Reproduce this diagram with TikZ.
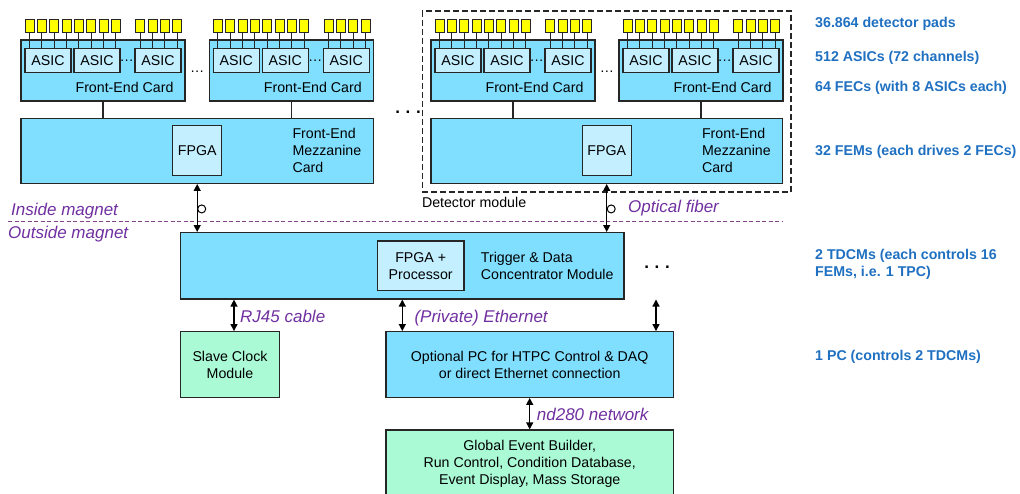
\documentclass[tikz,border=0pt]{standalone}
\usepackage{fontspec}
\setmainfont{Liberation Sans}
\usepackage{xcolor}
\usepackage{tikz}
\usetikzlibrary{arrows.meta,positioning,fit,calc}
\definecolor{modfill}{HTML}{80DFFF}
\definecolor{chipfill}{HTML}{C4EFFF}
\definecolor{extfill}{HTML}{AAFAD6}
\definecolor{padfill}{HTML}{FFFF00}
\definecolor{notecol}{HTML}{1F70C1}
\definecolor{cablecol}{HTML}{7030A0}
\definecolor{magnetcol}{HTML}{85448A}
\newcommand{\diagfont}{\fontsize{14.2}{17}\selectfont}
\newcommand{\cablefont}{\fontsize{17}{20}\selectfont\itshape}
\tikzset{
  board/.style={
    draw=black!85, line width=1.3pt, fill=modfill, inner sep=0pt, align=center
  },
  chip/.style={
    draw=black!85, line width=1.3pt, fill=chipfill, inner sep=0pt, align=center
  },
  extbox/.style={
    draw=black!85, line width=1.3pt, fill=extfill, inner sep=0pt, align=center
  },
  pad/.style={
    draw=black!85, line width=1pt, fill=padfill, inner sep=0pt,
    minimum width=9pt, minimum height=13pt
  },
  wire/.style={draw=black!85, line width=1.3pt},
  link/.style={{Triangle[length=7pt,width=7pt]}-{Triangle[length=7pt,width=7pt]},
    line width=1.3pt, black},
  fibre/.style={circle, draw=black, line width=1pt, fill=white,
    minimum size=8pt, inner sep=0pt},
  module/.style={draw=black!85, line width=1.2pt, dash pattern=on 6pt off 3pt},
  magnet/.style={draw=magnetcol, line width=1.5pt, dash pattern=on 4pt off 2.5pt},
  cablelabel/.style={font=\cablefont, text=cablecol, inner sep=0pt, anchor=base west},
  note/.style={font=\diagfont\bfseries, text=notecol, inner sep=0pt,
    anchor=west, align=left},
  bigdots/.style={font=\fontsize{17}{20}\selectfont\bfseries, inner sep=0pt},
}

\begin{document}
\begin{tikzpicture}[x=1pt, y=-1pt, font=\diagfont]
    \useasboundingbox (0,0) rectangle (1020,493);
    % front-end cards with their ASICs and pads
    \foreach \c/\x in {1/21, 2/209.3, 3/431, 4/619} {
      \node[board, minimum width=164pt, minimum height=61pt] (fec\c) at (\x+82,70.5) {};
      \foreach \a/\dx in {1/4, 2/53, 3/114}
        \node[chip, minimum width=46pt, minimum height=24.4pt] (asic\c-\a) at (\x+\dx+23,60.5) {ASIC};
      \node[inner sep=0pt] (adots\c) at (\x+105.8,61) {\dots};
      \node[above left=9pt and 12pt of fec\c.south east, inner sep=0pt] (fectxt\c) {Front-End Card};
      \foreach \dx [count=\p] in {8.5,20.8,33.2,45.5,57.8,70.2,82.5,94.8,119.2,131.5,143.8,156.2} {
        \node[pad] (pad\c-\p) at (\x+\dx,26) {};
        \draw[wire, line width=1pt] (pad\c-\p.south) -- (pad\c-\p.south |- asic\c-1.north);
      }
    }
    \node[inner sep=0pt] (cdots1) at ($(fec1.east)!.5!(fec2.west)+(0,1)$) {\dots};
    \node[inner sep=0pt] (cdots2) at ($(fec3.east)!.5!(fec4.west)+(0,1)$) {\dots};

    % front-end mezzanine cards
    \node[board, minimum width=352.3pt, minimum height=65pt] (fem1) at (197.2,150.8) {};
    \node[board, minimum width=351.3pt, minimum height=65pt] (fem2) at (606.7,150.8) {};
    \node[chip, minimum width=49pt, minimum height=50pt] (fpga1) at (fem1) {FPGA};
    \node[chip, minimum width=49pt, minimum height=50pt] (fpga2) at (fem2) {FPGA};
    \node[right=70pt of fpga1, align=left, inner sep=0pt] (femtxt1) {Front-End\\Mezzanine\\Card};
    \node[right=70pt of fpga2, align=left, inner sep=0pt] (femtxt2) {Front-End\\Mezzanine\\Card};
    \draw[wire] (fec1) -- (fec1 |- fem1.north);
    \draw[wire] (fec2) -- (fec2 |- fem1.north);
    \draw[wire] (fec3) -- (fec3 |- fem2.north);
    \draw[wire] (fec4) -- (fec4 |- fem2.north);
    \node[bigdots] (mdots) at (408,112) {.\,\,.\,\,.};

    \node[module, fit=(pad3-1)(pad4-12)(fem2), inner sep=8pt] (detmod) {};
    \node[below right=4pt and 0pt of detmod.south west, inner sep=0pt] (dettxt) {Detector module};

    % magnet boundary
    \coordinate (sepL) at (8,221.7);
    \coordinate (sepR) at (783,221.7);
    \draw[magnet] (sepL) -- (sepR);
    \node[cablelabel] (inside) at (11,215.3) {Inside magnet};
    \node[cablelabel] (outside) at (8,238.7) {Outside magnet};
    \node[cablelabel] (fiber) at (628,212) {Optical fiber};

    % trigger and data concentrator
    \node[board, minimum width=443.3pt, minimum height=66.3pt] (tdcm) at (402.3,265.8) {};
    \node[chip, minimum width=86.7pt, minimum height=49.7pt] (proc) at (420.7,265.8) {FPGA +\\Processor};
    \node[right=16pt of proc, align=left, inner sep=0pt] (tdcmtxt) {Trigger \& Data\\Concentrator Module};
    \node[bigdots] (tdots) at (657,267) {.\,\,.\,\,.};
    \draw[link] (fem1.south) -- node[fibre, pos=.52, xshift=4.5pt] (ring1) {} (fem1.south |- tdcm.north);
    \draw[link] (fem2.south) -- node[fibre, pos=.52, xshift=4.5pt] (ring2) {} (fem2.south |- tdcm.north);

    % outside world
    \node[extbox, minimum width=98.6pt, minimum height=65.6pt] (clock) at (230,364.5) {Slave Clock\\Module};
    \node[board, minimum width=287.3pt, minimum height=65.6pt] (pc) at (529.7,364.5) {Optional PC for HTPC Control \& DAQ\\or direct Ethernet connection};
    \node[extbox, minimum width=287.3pt, minimum height=67pt] (global) at (529.7,463.5) {Global Event Builder,\\Run Control, Condition Database,\\Event Display, Mass Storage};
    \coordinate (tdcmB) at (656,299.5);
    \draw[link] ([xshift=4pt]clock.north) -- ([xshift=4pt]clock.north |- tdcm.south);
    \draw[link] (tdcm.south) -- (tdcm.south |- pc.north);
    \draw[link] (tdcmB) -- (tdcmB |- pc.north);
    \draw[link] (pc.south) -- (global.north);
    \node[cablelabel] (rj45) at (240,322) {RJ45 cable};
    \node[cablelabel] (ether) at (414.3,322) {(Private) Ethernet};
    \node[cablelabel] (nd280) at (536.7,420.7) {nd280 network};

    % numbers
    \node[note] (n1) at (815,24.3) {36.864 detector pads};
    \node[note] (n2) at (815,57.7) {512 ASICs (72 channels)};
    \node[note] (n3) at (815,88.3) {64 FECs (with 8 ASICs each)};
    \node[note] (n4) at (815,151.7) {32 FEMs (each drives 2 FECs)};
    \node[note] (n5) at (815,264.5) {2 TDCMs (each controls 16\\FEMs, i.e. 1 TPC)};
    \node[note] (n6) at (815,356.7) {1 PC (controls 2 TDCMs)};
  \end{tikzpicture}
\end{document}
